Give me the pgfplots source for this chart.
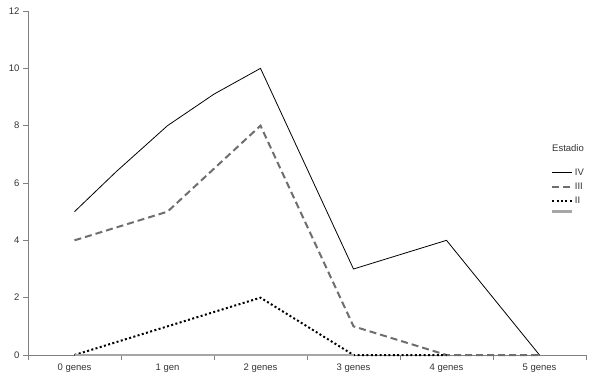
\documentclass[border=0pt]{standalone}
\usepackage{pgfplots}
\pgfplotsset{compat=1.18}
\usepackage{fontspec}
\setmainfont{Liberation Sans}
\definecolor{axgray}{HTML}{808080}
\definecolor{dashgray}{HTML}{6E6E6E}
\definecolor{lgray}{HTML}{A6A6A6}
\begin{document}
\begin{tikzpicture}
\begin{axis}[
  name=ax,
  scale only axis,
  width=558pt, height=344pt,
  xmin=-0.5, xmax=5.5, ymin=0, ymax=12,
  axis x line=bottom, axis y line=left,
  axis line style={-, draw=axgray, line width=0.8pt},
  xtick={0,...,5},
  xticklabels={0 genes,1 gen,2 genes,3 genes,4 genes,5 genes},
  minor xtick={-0.5,0.5,...,5.5},
  major x tick style={draw=none},
  minor x tick style={draw=axgray, line width=0.6pt},
  ytick={0,2,...,12},
  y tick style={draw=axgray, line width=0.6pt},
  tick align=outside,
  major tick length=5pt, minor tick length=5pt,
  tick label style={font=\fontsize{9.5}{11}\selectfont, text=black!80},
  /pgf/number format/assume math mode=true,
  clip=false,
  legend style={draw=none, fill=none, at={(0.937,0.547)}, anchor=north west,
    font=\fontsize{9.5}{11}\selectfont, row sep=3pt, inner sep=0pt,
    nodes={inner sep=1.5pt, text=black!80}},
  legend cell align=left,
  legend image code/.code={\draw[#1] (0pt,0pt) -- (20pt,0pt);},
]
\addplot[black, line width=0.8pt] coordinates {(0,5) (0.45,6.4) (1,8) (1.5,9.1) (2,10) (3,3) (4,4) (5,0)};
\addlegendentry{IV}
\addplot[dashgray, line width=2pt, dash pattern=on 7pt off 4pt] coordinates {(0,4) (1,5) (2,8) (3,1) (4,0) (5,0)};
\addlegendentry{III}
\addplot[black, line width=2pt, dash pattern=on 2pt off 2.4pt] coordinates {(0,0) (1,1) (2,2) (3,0) (4,0)};
\addlegendentry{II}
\addplot[lgray, line width=2.4pt] coordinates {(0,0) (1,0) (2,0) (3,0)};
\addlegendentry{}
\node[anchor=west, font=\fontsize{9.5}{11}\selectfont, text=black!80, inner sep=0pt] at (rel axis cs:0.939,0.602) {Estadio};
\end{axis}
\path ([xshift=-28pt,yshift=-28pt]ax.south west) rectangle ([xshift=7pt,yshift=11pt]ax.north east);
\end{tikzpicture}
\end{document}
